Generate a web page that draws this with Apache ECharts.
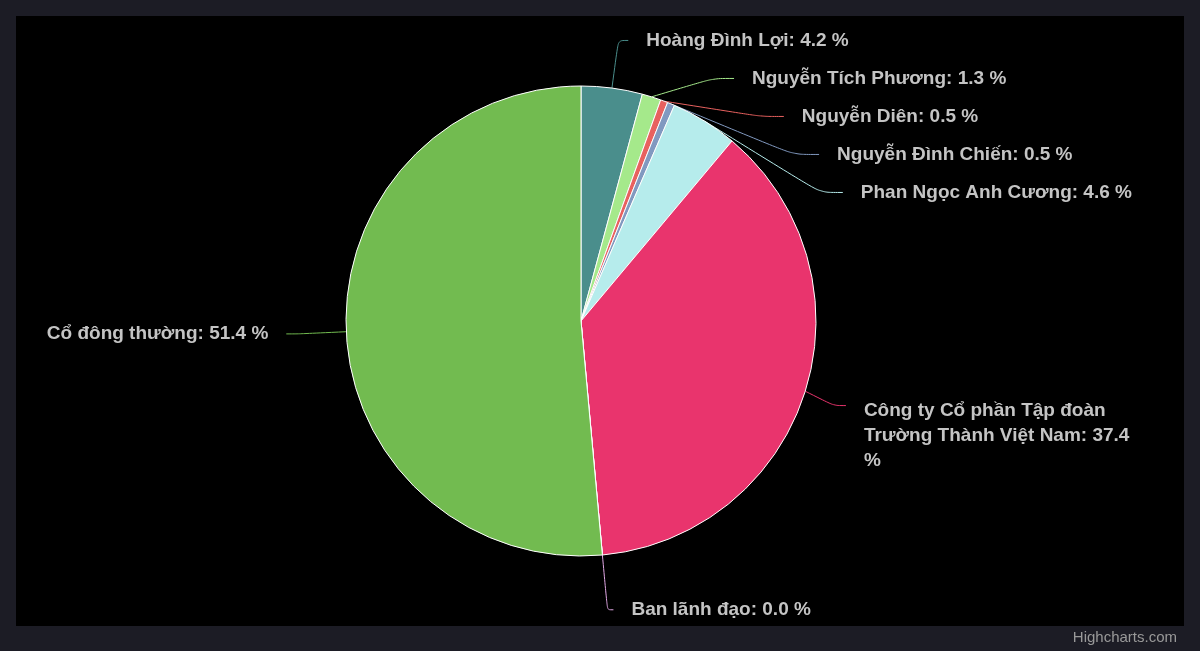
<!DOCTYPE html>
<html lang="vi">
<head>
    <meta charset="UTF-8">
    <title>Cơ cấu cổ đông</title>
    <style>
        html, body { margin: 0; padding: 0; background: #1c1c25; }
        #chart { width: 1200px; height: 651px; }
    </style>
</head>
<body>
<div id="chart"></div>
<script type="text/javascript" src="https://cdn.jsdelivr.net/npm/echarts@6/dist/echarts.min.js"></script>
<script type="text/javascript">
// dữ liệu cổ đông (%)
var names = [
    'Hoàng Đình Lợi',
    'Nguyễn Tích Phương',
    'Nguyễn Diên',
    'Nguyễn Đình Chiến',
    'Phan Ngọc Anh Cương',
    'Công ty Cổ phần Tập đoàn Trường Thành Việt Nam',
    'Ban lãnh đạo',
    'Cổ đông thường'
];
var shares = [4.2, 1.3, 0.5, 0.5, 4.6, 37.4, 0.0, 51.4];
var colors = ['#4a8e8c', '#a5e98b', '#e8615f', '#8199c0', '#b6ecec', '#e9346d', '#e2a8e6', '#72bb50'];

// ngắt dòng theo số ký tự (nhãn dài)
function wrap(s, max) {
    var words = s.split(' '), lines = [], cur = '';
    words.forEach(function (w) {
        if (cur && (cur + ' ' + w).length > max) {
            lines.push(cur);
            cur = w;
        } else {
            cur = cur ? cur + ' ' + w : w;
        }
    });
    lines.push(cur);
    return lines.join('\n');
}

// độ dài đoạn ngang của đường nối cho cụm nhãn phía trên
var lineTail = [10, 21, 23, 26, 27, 12, 6, 12];

var myChart = echarts.init(document.getElementById('chart'));

var data = names.map(function (n, i) {
    var item = {name: n, value: shares[i], labelLine: {length2: lineTail[i]}};
    if (i === 5) {
        item.label = {lineHeight: 25};
    }
    if (i === 6) {
        item.labelLine.length = 55;
    }
    return item;
});

var option = {
    backgroundColor: '#1c1c25',
    color: colors,
    graphic: [
        {
            type: 'rect',
            z: -10,
            shape: {x: 16, y: 16, width: 1168, height: 610},
            style: {fill: '#000000'}
        },
        {
            type: 'text',
            right: 23,
            top: 630,
            style: {
                text: 'Highcharts.com',
                fill: '#999999',
                font: '15px "Liberation Sans", Arial, sans-serif'
            }
        }
    ],
    series: [
        {
            type: 'pie',
            center: [581, 321],
            radius: 235,
            startAngle: 90,
            clockwise: true,
            avoidLabelOverlap: true,
            itemStyle: {
                borderColor: '#ffffff',
                borderWidth: 1
            },
            label: {
                color: '#c4c4c4',
                fontFamily: '"Liberation Sans", Arial, sans-serif',
                fontWeight: 'bold',
                fontSize: 19,
                lineHeight: 36,
                distanceToLabelLine: 18,
                formatter: function (p) {
                    return wrap(p.name + ': ' + p.value.toFixed(1) + ' %', 27);
                }
            },
            labelLine: {
                length: 48,
                length2: 12,
                smooth: 0.3,
                lineStyle: {width: 1}
            },
            labelLayout: function (p) {
                // nhãn nhiều dòng: dòng đầu ngang với đầu đường nối
                if (p.dataIndex === 5) {
                    return {dy: 30};
                }
                return {};
            },
            emphasis: {scale: false},
            data: data
        }
    ]
};
myChart.setOption(option);
</script>
</body>
</html>
